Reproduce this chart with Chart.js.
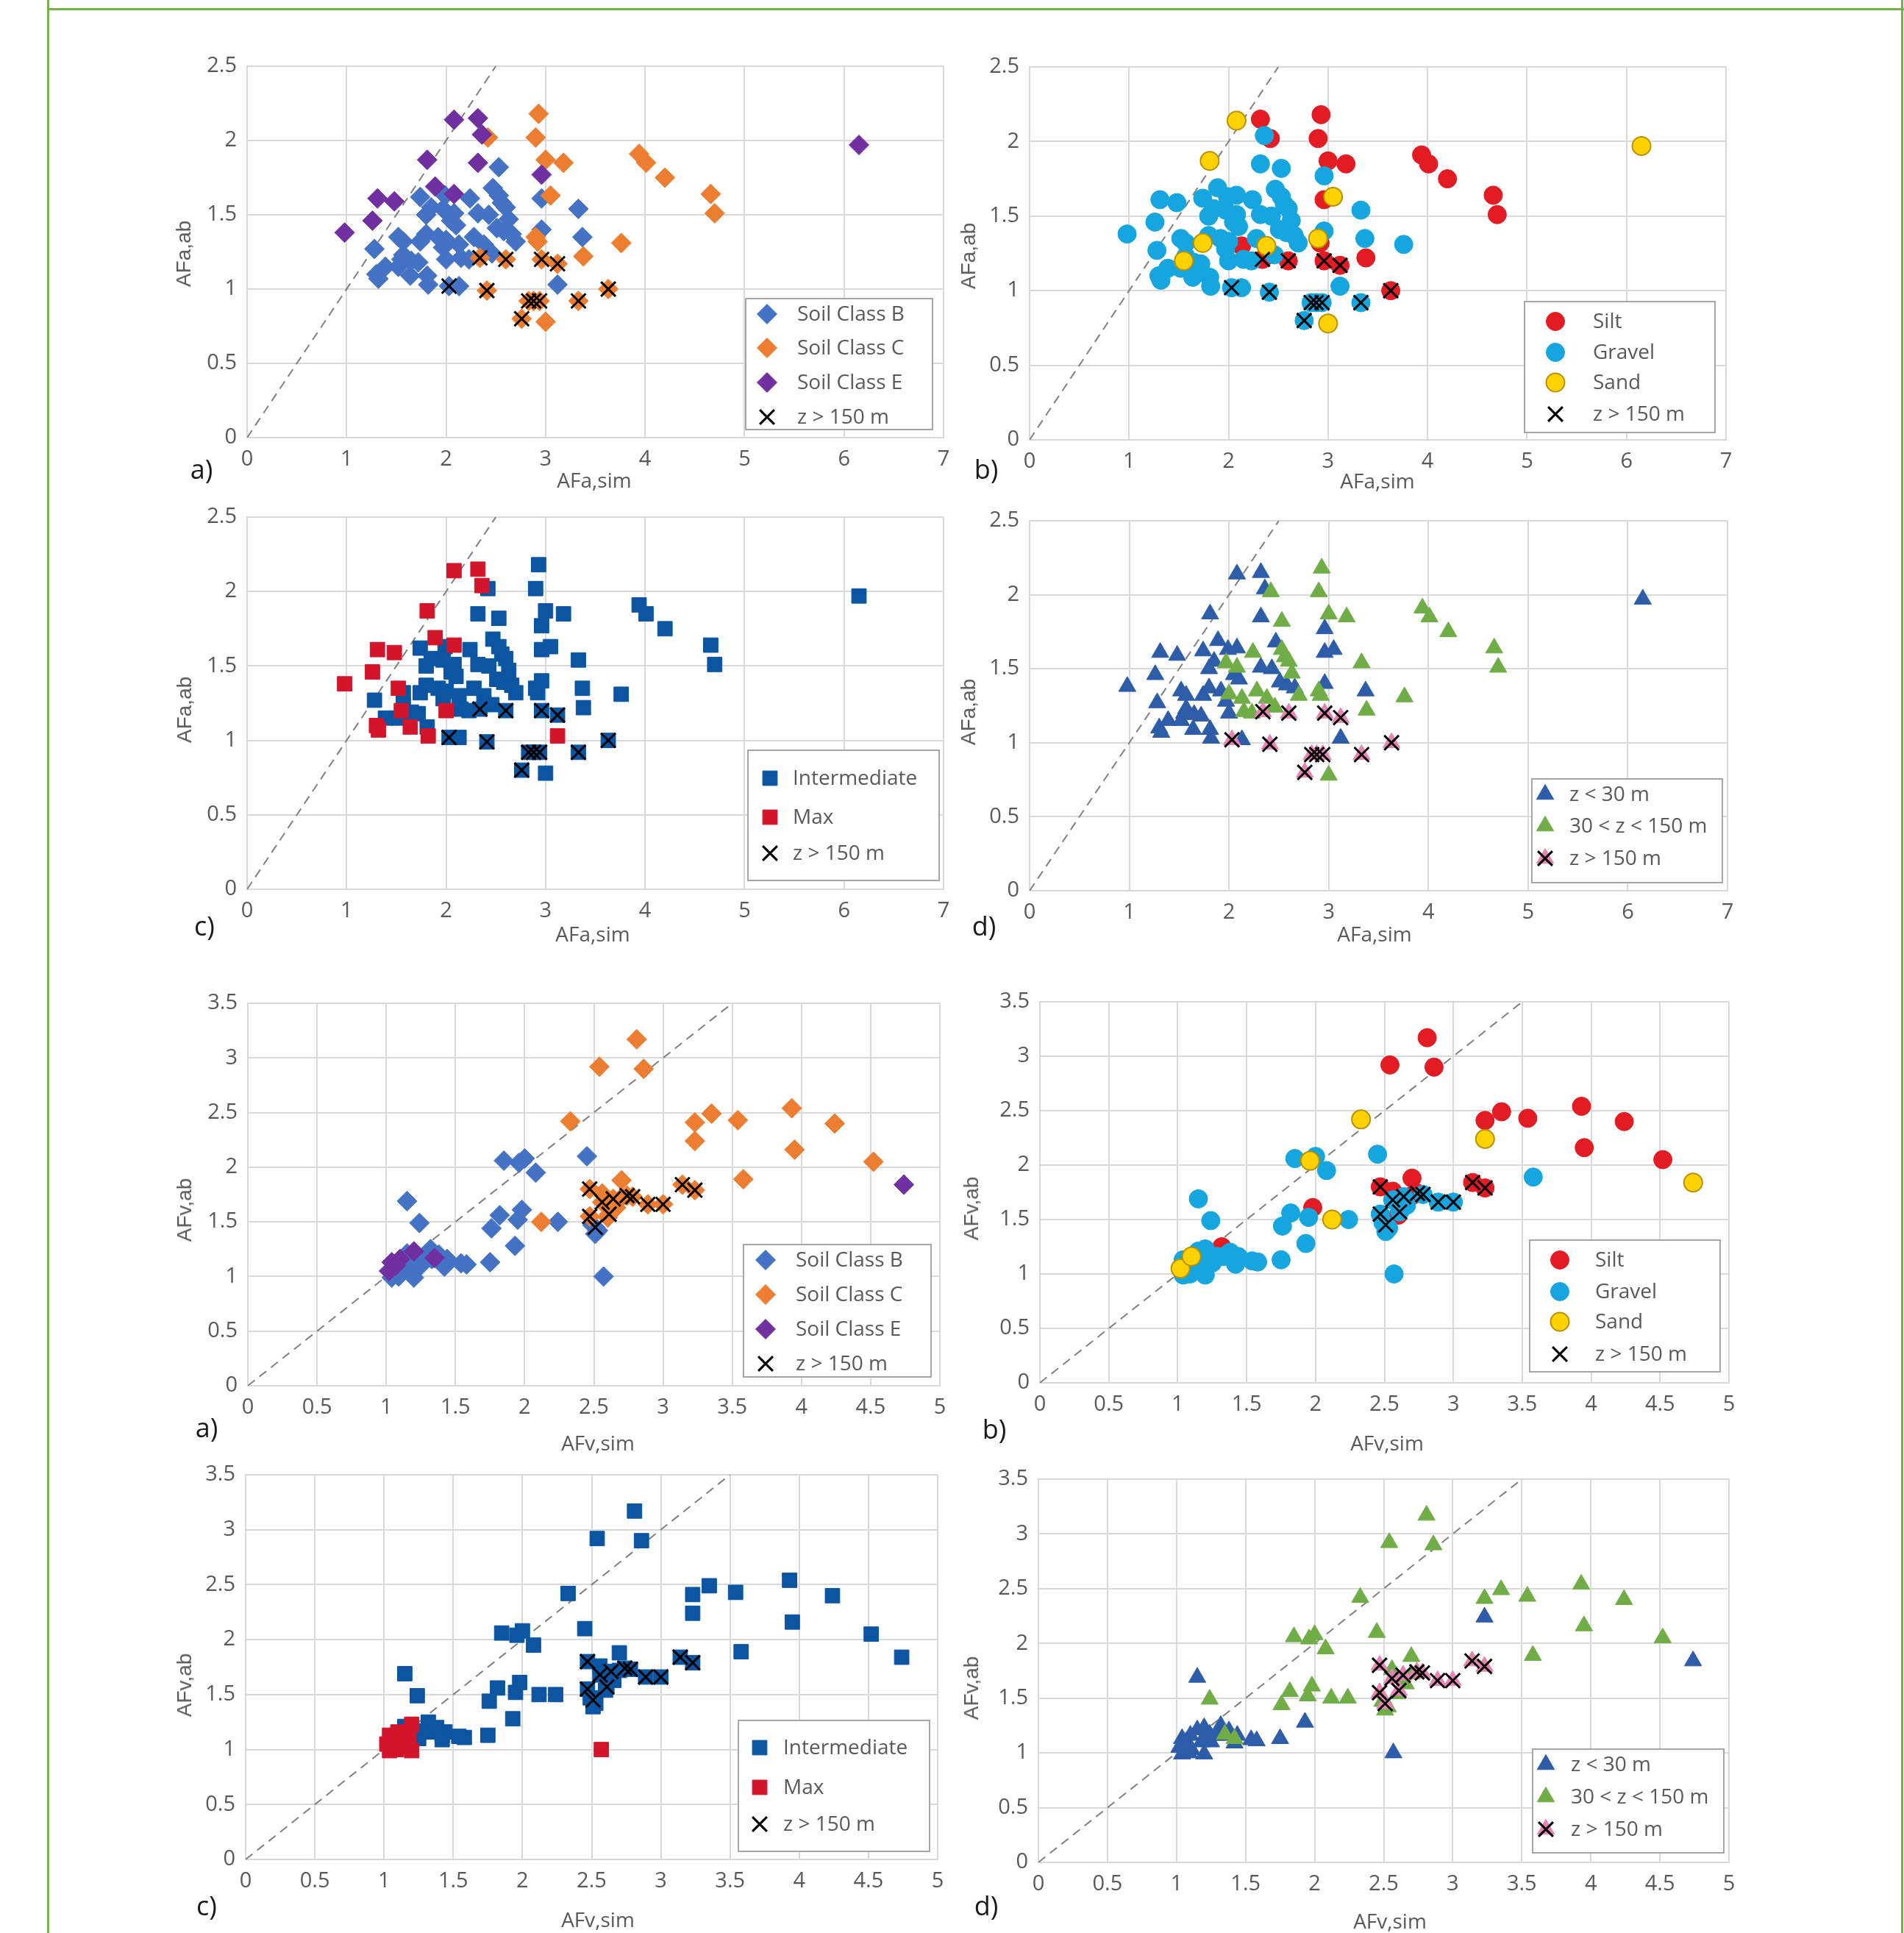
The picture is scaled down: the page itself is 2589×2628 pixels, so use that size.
<!DOCTYPE html>
<html>
<head>
<meta charset="utf-8">
<title>AFa / AFv: observed vs simulated</title>
<script src="https://cdn.jsdelivr.net/npm/chart.js@4.4.1/dist/chart.umd.min.js"></script>
<style>
  html, body { margin: 0; padding: 0; background: #fff; }
  body { position: relative; width: 2589px; height: 2628px; overflow: hidden; font-family: 'Open Sans', sans-serif; }
  .vline { position: absolute; top: 0; width: 3px; height: 2628px; background: #75b24b; }
  .hline { position: absolute; left: 65px; top: 11px; width: 2524px; height: 3px; background: #75b24b; }
  .panel { position: absolute; }
  .tag { position: absolute; transform: translate(-50%, -50%); font-size: 36px; color: #1a1a1a; white-space: nowrap; }
  .xt { position: absolute; transform: translate(-50%, -50%); font-size: 28px; color: #595959; white-space: nowrap; }
  .yt { position: absolute; transform: translate(-50%, -50%) rotate(-90deg); font-family: 'Liberation Sans', Arial, sans-serif; font-size: 28px; color: #595959; white-space: nowrap; }
</style>
</head>
<body>
<div class="vline" style="left:64px"></div>
<div class="vline" style="left:2585px"></div>
<div class="hline"></div>

<script>
// ---------- AFa : top four panels (one record per site) ----------
// codes -> class: 0=B 1=C 2=E | type: 0=Silt 1=Gravel 2=Sand | model: 0=Intermediate 1=Max | depth: 0=<30 1=30-150 2=>150
const afaSim = [
  0.98, 1.26, 1.31, 1.48, 1.81, 1.89, 2.08, 2.08, 2.32, 2.36, 2.32, 2.96, 6.15,
  2.93, 2.42, 2.90, 3.00, 3.18, 3.94, 4.01, 4.20, 4.66, 4.70, 3.05, 2.90, 2.92, 3.76, 3.38, 3.00,
  2.34, 2.60, 2.96, 3.12, 2.41, 3.63, 3.33, 2.76, 2.83, 2.94, 2.88, 2.03,
  2.53, 3.33, 3.37, 3.12, 2.96, 2.96, 2.47,
  1.28, 1.30, 1.32, 1.39, 1.52, 1.57, 1.55, 1.57, 1.52, 1.65, 1.64, 1.72,
  1.74, 1.74, 1.80, 1.80, 1.85, 1.81, 1.82,
  1.92, 1.97, 1.99, 1.97, 2.00,
  2.05, 2.08, 2.10, 2.13, 2.13, 2.15, 2.23, 2.24, 2.28,
  2.32, 2.38, 2.43, 2.46, 2.53, 2.56, 2.60,
  2.51, 2.58, 2.63, 2.66, 2.70, 2.00
];
const afaAb = [
  1.38, 1.46, 1.61, 1.59, 1.87, 1.69, 2.14, 1.64, 2.15, 2.04, 1.85, 1.77, 1.97,
  2.18, 2.02, 2.02, 1.87, 1.85, 1.91, 1.85, 1.75, 1.64, 1.51, 1.63, 1.35, 1.32, 1.31, 1.22, 0.78,
  1.21, 1.20, 1.20, 1.17, 0.99, 1.00, 0.92, 0.80, 0.92, 0.92, 0.92, 1.02,
  1.82, 1.54, 1.35, 1.03, 1.61, 1.40, 1.68,
  1.27, 1.10, 1.07, 1.15, 1.35, 1.32, 1.20, 1.23, 1.15, 1.19, 1.09, 1.18,
  1.62, 1.32, 1.37, 1.50, 1.55, 1.09, 1.03,
  1.35, 1.54, 1.63, 1.28, 1.20,
  1.46, 1.51, 1.43, 1.30, 1.02, 1.21, 1.20, 1.61, 1.35,
  1.51, 1.30, 1.50, 1.24, 1.63, 1.58, 1.55,
  1.41, 1.39, 1.47, 1.37, 1.32, 1.33
];
const afaClass = codes('2222222222222 1111111111111111 111111111110 0000000 000000000000 0000000 00000 000000000 0000000 000000');
const afaType  = codes('1111212101112 0000000000220102 000010111111 1111011 111111211111 1211111 11111 111011111 1211111 111111');
const afaModel = codes('1111111111000 0000000000000000 000000000000 0001000 011010100010 0000001 00001 000000000 0000000 000000');
const afaDepth = codes('0000000000000 1111111111011111 222222222222 1100000 000000000000 0000000 01000 010101111 0101111 001011');

// ---------- AFv : bottom four panels ----------
const afvSim = [
  2.81, 2.54, 2.86, 2.33, 3.35, 3.23, 3.54, 3.93, 4.24, 3.23, 3.95, 4.52, 3.58, 2.70, 2.12, 2.56, 2.57, 2.60, 2.66, 2.70,
  2.47, 2.47, 2.51, 2.56, 2.61, 2.64, 2.74, 2.78, 2.89, 3.00, 3.14, 3.23,
  4.74, 1.02, 1.07, 1.10, 1.20, 1.35, 1.04,
  1.15, 1.24, 1.85, 1.96, 2.00, 2.08, 2.45, 1.76, 1.82, 1.95, 1.98, 2.24, 1.93, 1.75, 2.57, 2.49, 2.53, 2.51,
  1.04, 1.11, 1.20, 1.25, 1.29, 1.32, 1.42, 1.44, 1.54, 1.58, 1.15, 1.24, 1.18, 1.33, 1.42, 1.09, 1.06, 1.38
];
const afvAb = [
  3.17, 2.92, 2.90, 2.42, 2.49, 2.41, 2.43, 2.54, 2.40, 2.24, 2.16, 2.05, 1.89, 1.88, 1.50, 1.76, 1.68, 1.54, 1.63, 1.72,
  1.80, 1.55, 1.45, 1.68, 1.57, 1.71, 1.74, 1.73, 1.66, 1.66, 1.84, 1.79,
  1.84, 1.05, 1.10, 1.16, 1.23, 1.17, 1.13,
  1.69, 1.49, 2.06, 2.04, 2.08, 1.95, 2.10, 1.44, 1.56, 1.52, 1.61, 1.50, 1.28, 1.13, 1.00, 1.47, 1.42, 1.39,
  0.99, 1.03, 0.99, 1.10, 1.16, 1.25, 1.09, 1.16, 1.12, 1.11, 1.21, 1.17, 1.10, 1.16, 1.13, 1.00, 1.07, 1.20
];
const afvClass = codes('11111111111111111111 110111111111 2222222 000000000000000000 000000000000000000');
const afvType  = codes('00020000020010201010 011111011100 2212111 111211111101111111 111110111111111111');
const afvModel = codes('00000000000000000000 000000000000 0111101 000000000000001000 111000000000100110');
const afvDepth = codes('11111111101111111111 222222222222 0000010 011111111111000111 000000000000001000');

// axes ticks
const afaTicksX = [0, 1, 2, 3, 4, 5, 6, 7];
const afaTicksY = [0, 0.5, 1, 1.5, 2, 2.5];
const afvTicksX = [0, 0.5, 1, 1.5, 2, 2.5, 3, 3.5, 4, 4.5, 5];
const afvTicksY = [0, 0.5, 1, 1.5, 2, 2.5, 3, 3.5];

// legend texts
const soilClassLabels = ['Soil Class B', 'Soil Class C', 'Soil Class E'];
const soilTypeLabels = ['Silt', 'Gravel', 'Sand'];
const modelLabels = ['Intermediate', 'Max'];
const depthLabels = ['z < 30 m', '30 < z < 150 m', 'z > 150 m'];
const deepLabel = 'z > 150 m';

function codes(s) {
    return s.replace(/\s/g, '').split('').map(Number);
}

// --------- styles (kept apart from data) ---------
const groupStyles = {
    cls:   { shape: 'rectRot', r: 13.5, fills: ['#4472C4', '#ED7D31', '#7030A0'] },
    type:  { shape: 'circle', r: 12.5, fills: ['#E31B23', '#16A6DF', '#FFD200'], borders: ['#E31B23', '#16A6DF', '#B89000'], bw: [1, 1, 2] },
    model: { shape: 'rect', r: 14, fills: ['#0C55A2', '#D3152B'] },
    depth: { shape: 'triangle', r: 13.5, fills: ['#2D5CA8', '#70AD47', '#E684B3'] }
};
const crossStyle = { style: 'crossRot', r: 14, bg: '#000', border: '#000', bw: 3 };
const gridColor = '#d9d9d9';
const tickColor = '#595959';

const sets = {
    afa: { sim: afaSim, ab: afaAb, cls: afaClass, type: afaType, model: afaModel, depth: afaDepth,
           ticksX: afaTicksX, ticksY: afaTicksY, xTitle: 'AFa,sim', yTitle: 'AFa,ab' },
    afv: { sim: afvSim, ab: afvAb, cls: afvClass, type: afvType, model: afvModel, depth: afvDepth,
           ticksX: afvTicksX, ticksY: afvTicksY, xTitle: 'AFv,sim', yTitle: 'AFv,ab' }
};
const groupLabels = { cls: soilClassLabels, type: soilTypeLabels, model: modelLabels, depth: depthLabels };

// page placement of each panel: plot rect, legend rect, legend rows, tag / titles
const panels = [
    { set: 'afa', key: 'cls',   tag: 'a)', plot: [336, 90, 1283, 595],    leg: [1014, 406, 1268, 584],  rows: [427, 473, 520, 567],  mx: 29, tx: 70, tagAt: [274, 637],  xAt: [808, 652],   yAt: [250, 345] },
    { set: 'afa', key: 'type',  tag: 'b)', plot: [1400, 91, 2347, 598],   leg: [2073, 410, 2332, 588],  rows: [437, 479, 520, 563],  mx: 42, tx: 93, tagAt: [1341, 637], xAt: [1873, 653],  yAt: [1317, 348] },
    { set: 'afa', key: 'model', tag: 'c)', plot: [336, 703, 1283, 1209],  leg: [1017, 1020, 1277, 1197], rows: [1058, 1111, 1160],    mx: 30, tx: 61, tagAt: [278, 1258], xAt: [806, 1269],  yAt: [251, 965] },
    { set: 'afa', key: 'depth', tag: 'd)', plot: [1400, 708, 2349, 1211], leg: [2083, 1059, 2342, 1200], rows: [1080, 1123, 1167],    mx: 18, tx: 51, tagAt: [1338, 1258], xAt: [1869, 1269], yAt: [1317, 968] },
    { set: 'afv', key: 'cls',   tag: 'a)', plot: [337, 1364, 1278, 1884], leg: [1011, 1692, 1266, 1872], rows: [1713, 1760, 1807, 1854], mx: 30, tx: 71, tagAt: [281, 1940], xAt: [813, 1961], yAt: [251, 1645] },
    { set: 'afv', key: 'type',  tag: 'b)', plot: [1414, 1362, 2351, 1880], leg: [2080, 1686, 2339, 1865], rows: [1713, 1756, 1797, 1841], mx: 41, tx: 89, tagAt: [1352, 1942], xAt: [1886, 1961], yAt: [1321, 1643] },
    { set: 'afv', key: 'model', tag: 'c)', plot: [334, 2005, 1275, 2528], leg: [1004, 2339, 1264, 2517], rows: [2376, 2430, 2480],    mx: 29, tx: 61, tagAt: [281, 2590], xAt: [813, 2609], yAt: [251, 2291] },
    { set: 'afv', key: 'depth', tag: 'd)', plot: [1412, 2011, 2351, 2532], leg: [2084, 2378, 2344, 2519], rows: [2399, 2443, 2487],    mx: 18, tx: 52, tagAt: [1341, 2590], xAt: [1890, 2611], yAt: [1321, 2295] }
];

// legend box drawn in the canvas, on top of the plot
const boxLegend = {
    id: 'boxLegend',
    afterDraw(chart, args, opts) {
        const ctx = chart.ctx;
        const [l, t, r, b] = opts.rect;
        ctx.save();
        ctx.fillStyle = '#fff';
        ctx.fillRect(l, t, r - l, b - t);
        ctx.strokeStyle = '#a6a6a6';
        ctx.lineWidth = 2;
        ctx.strokeRect(l, t, r - l, b - t);
        ctx.font = "28px 'Open Sans'";
        ctx.textBaseline = 'middle';
        opts.items.forEach((it, k) => {
            const y = opts.rows[k];
            it.marks.forEach(m => {
                ctx.fillStyle = m.bg;
                ctx.strokeStyle = m.border;
                ctx.lineWidth = m.bw;
                Chart.helpers.drawPoint(ctx, { pointStyle: m.style, radius: m.r, borderWidth: m.bw, rotation: 0 }, l + opts.mx, y);
            });
            ctx.fillStyle = tickColor;
            ctx.fillText(it.text, l + opts.tx, y + 1);
        });
        ctx.restore();
    }
};

function addText(cls, txt, at) {
    const d = document.createElement('div');
    d.className = cls;
    d.textContent = txt;
    d.style.left = at[0] + 'px';
    d.style.top = at[1] + 'px';
    document.body.appendChild(d);
}

function axisOpts(ticks, isX, size) {
    return {
        type: 'linear',
        min: ticks[0],
        max: ticks[ticks.length - 1],
        afterBuildTicks: s => { s.ticks = ticks.map(v => ({ value: v })); },
        afterFit: s => {
            if (isX) s.height = size; else s.width = size;
            s.paddingLeft = 0; s.paddingRight = 0; s.paddingTop = 0; s.paddingBottom = 0;
        },
        ticks: {
            autoSkip: false, maxRotation: 0, color: tickColor,
            padding: isX ? 12 : 14,
            font: { family: "'Open Sans'", size: 29 },
            callback: v => String(v)
        },
        grid: { color: gridColor, lineWidth: 2, drawTicks: false },
        border: { color: gridColor, width: 2 }
    };
}

function makePanel(p) {
    const S = sets[p.set];
    const st = groupStyles[p.key];
    const labels = groupLabels[p.key];
    const keyArr = S[p.key];
    const padL = 130, padT = 30, padR = 30, padB = 110;
    const w = p.plot[2] - p.plot[0], h = p.plot[3] - p.plot[1];
    const ox = p.plot[0] - padL, oy = p.plot[1] - padT;

    const box = document.createElement('div');
    box.className = 'panel';
    box.style.left = ox + 'px';
    box.style.top = oy + 'px';
    const cv = document.createElement('canvas');
    cv.width = w + padL + padR;
    cv.height = h + padT + padB;
    box.appendChild(cv);
    document.body.appendChild(box);

    const idx = S.sim.map((_, i) => i);
    const top = S.ticksY[S.ticksY.length - 1];
    const datasets = [{
        label: 'diag',
        data: [{ x: 0, y: 0 }, { x: top, y: top }],
        showLine: true, borderColor: '#808080', borderWidth: 2, borderDash: [12, 8],
        pointRadius: 0, order: 50
    }];
    labels.forEach((lab, g) => {
        datasets.push({
            label: lab,
            data: idx.filter(i => keyArr[i] === g).map(i => ({ x: S.sim[i], y: S.ab[i] })),
            pointStyle: st.shape, pointRadius: st.r,
            backgroundColor: st.fills[g],
            borderColor: (st.borders || st.fills)[g],
            borderWidth: st.bw ? st.bw[g] : 1,
            order: 20 - g
        });
    });
    datasets.push({
        label: deepLabel,
        data: idx.filter(i => S.depth[i] === 2).map(i => ({ x: S.sim[i], y: S.ab[i] })),
        pointStyle: crossStyle.style, pointRadius: crossStyle.r,
        backgroundColor: crossStyle.bg, borderColor: crossStyle.border, borderWidth: crossStyle.bw,
        order: 1
    });

    // legend entries
    const items = labels.map((lab, g) => ({
        text: lab,
        marks: [{ style: st.shape, r: st.r, bg: st.fills[g], border: (st.borders || st.fills)[g], bw: st.bw ? st.bw[g] : 1 }]
    }));
    if (p.key === 'depth') items[2].marks.push(crossStyle);
    else items.push({ text: deepLabel, marks: [crossStyle] });

    new Chart(cv, {
        type: 'scatter',
        data: { datasets },
        options: {
            responsive: false,
            animation: false,
            events: [],
            layout: { padding: { top: padT, right: padR, left: 0, bottom: 0 } },
            scales: {
                x: axisOpts(S.ticksX, true, padB),
                y: axisOpts(S.ticksY, false, padL)
            },
            plugins: {
                legend: { display: false },
                tooltip: { enabled: false },
                boxLegend: {
                    rect: [p.leg[0] - ox, p.leg[1] - oy, p.leg[2] - ox, p.leg[3] - oy],
                    rows: p.rows.map(y => y - oy),
                    mx: p.mx, tx: p.tx, items
                }
            }
        },
        plugins: [boxLegend]
    });

    addText('tag', p.tag, p.tagAt);
    addText('xt', S.xTitle, p.xAt);
    addText('yt', S.yTitle, p.yAt);
}

panels.forEach(makePanel);
</script>
</body>
</html>
